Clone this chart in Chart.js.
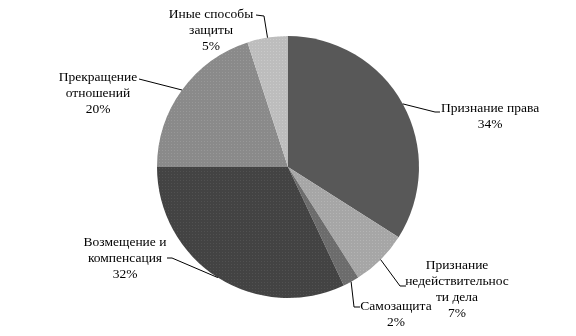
<!DOCTYPE html>
<html lang="ru">
<head>
<meta charset="UTF-8">
<title>Способы защиты</title>
<script src="https://cdn.jsdelivr.net/npm/chart.js@4.4.1/dist/chart.umd.min.js"></script>
<style>
  html, body { margin: 0; padding: 0; background: #fff; }
  #wrap { width: 576px; height: 336px; }
</style>
</head>
<body>
<div id="wrap"><canvas id="chart" width="576" height="336"></canvas></div>
<script>
// data
var categories = ['Признание права', 'Признание недействительности дела', 'Самозащита',
                  'Возмещение и компенсация', 'Прекращение отношений', 'Иные способы защиты'];
var labelLines = [
  ['Признание права'],
  ['Признание', 'недействительнос', 'ти дела'],
  ['Самозащита'],
  ['Возмещение и', 'компенсация'],
  ['Прекращение', 'отношений'],
  ['Иные способы', 'защиты']
];
var shares = [34, 7, 2, 32, 20, 5];

// grey fills with a faint dot texture
function dotted(base, dot) {
  var c = document.createElement('canvas');
  c.width = 3; c.height = 3;
  var g = c.getContext('2d');
  g.fillStyle = base; g.fillRect(0, 0, 3, 3);
  g.fillStyle = dot; g.fillRect(0, 0, 1, 1);
  return g.createPattern(c, 'repeat');
}
var fills = [
  '#585858',
  dotted('#a6a6a6', '#b4b4b4'),
  dotted('#6c6c6c', '#7a7a7a'),
  dotted('#434343', '#515151'),
  dotted('#8a8a8a', '#989898'),
  dotted('#bdbdbd', '#cacaca')
];

// where each label sits: elbow point, end of leader, text centre x, first line y
var spots = [
  { elbow: [435, 112], end: [440, 112], tx: 490, ty: 108 },
  { elbow: [400, 286], end: [406, 286], tx: 457, ty: 265 },
  { elbow: [354, 307], end: [360, 307], tx: 396, ty: 306 },
  { elbow: [172, 258], end: [167, 258], tx: 125, ty: 242 },
  { elbow: [182, 90],  end: [139, 79],  tx: 98,  ty: 77 },
  { elbow: [264, 16],  end: [256, 15],  tx: 211, ty: 14 }
];

var leaderLabels = {
  id: 'leaderLabels',
  afterDraw: function(chart) {
    var ctx = chart.ctx;
    var arcs = chart.getDatasetMeta(0).data;
    ctx.save();
    ctx.font = '13.5px "Liberation Serif", "Times New Roman", serif';
    ctx.fillStyle = '#000';
    ctx.strokeStyle = '#000';
    ctx.lineWidth = 1;
    ctx.textAlign = 'center';
    ctx.textBaseline = 'middle';
    arcs.forEach(function(arc, i) {
      var p = arc.getProps(['x', 'y', 'startAngle', 'endAngle', 'outerRadius'], true);
      var mid = (p.startAngle + p.endAngle) / 2;
      var sx = p.x + Math.cos(mid) * p.outerRadius;
      var sy = p.y + Math.sin(mid) * p.outerRadius;
      var s = spots[i];
      ctx.beginPath();
      ctx.moveTo(sx, sy);
      ctx.lineTo(s.elbow[0], s.elbow[1]);
      ctx.lineTo(s.end[0], s.end[1]);
      ctx.stroke();
      var lines = labelLines[i].concat([shares[i] + '%']);
      lines.forEach(function(t, k) {
        ctx.fillText(t, s.tx, s.ty + k * 16);
      });
    });
    ctx.restore();
  }
};

new Chart(document.getElementById('chart'), {
  type: 'pie',
  data: {
    labels: categories,
    datasets: [{
      data: shares,
      backgroundColor: fills,
      borderWidth: 0
    }]
  },
  options: {
    responsive: false,
    animation: false,
    layout: { padding: { top: 36, bottom: 38, left: 0, right: 0 } },
    plugins: {
      legend: { display: false },
      tooltip: { enabled: false }
    }
  },
  plugins: [leaderLabels]
});
</script>
</body>
</html>
